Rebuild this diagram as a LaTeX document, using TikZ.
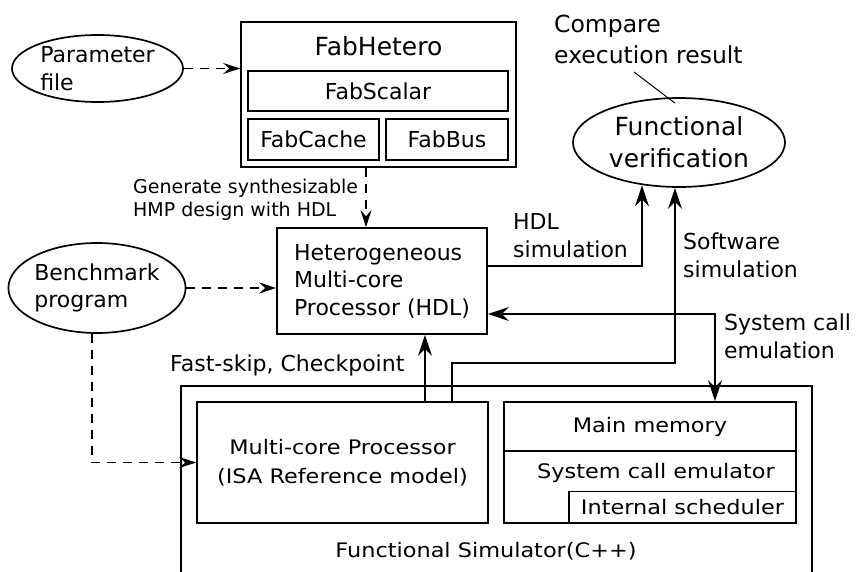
\documentclass[tikz,border=0pt]{standalone}
\usepackage{fontspec}
\setmainfont{DejaVu Sans}
\newfontfamily\wideff[FakeStretch=1.12]{DejaVu Sans}
\usetikzlibrary{arrows.meta,shapes.geometric,calc}
\newcommand\lblf{\fontsize{22}{27.5}\selectfont}
\newcommand\ttlf{\fontsize{25}{32}\selectfont}
\newcommand\smlf{\fontsize{19}{23}\selectfont}
\newcommand\cmpf{\fontsize{23.5}{31}\selectfont}
\newcommand\widef{\wideff\fontsize{20}{29}\selectfont}
\begin{document}
\begin{tikzpicture}[x=1pt,y=-1pt,
  box/.style={draw,line width=1.7pt,inner sep=0pt},
  oval/.style={draw,ellipse,line width=1.7pt,inner sep=0pt},
  solidc/.style={line width=1.5pt,-{Stealth[length=21pt,width=14pt,inset=7pt]}},
  bothc/.style={line width=1.5pt,{Stealth[length=21pt,width=14pt,inset=7pt]}-{Stealth[length=21pt,width=14pt,inset=7pt]}},
  dashc/.style={line width=1.3pt,dash pattern=on 9pt off 7pt,-{Stealth[length=17pt,width=11pt,inset=6pt]}},
  thinc/.style={line width=1pt}
]
\useasboundingbox (0,0) rectangle (857,571);

% top left
\node[oval, minimum width=171, minimum height=67, align=left, font=\lblf] (param) at (97.5,68.5) {Parameter\\file};
\node[box, minimum width=275, minimum height=145] (fab) at (378.5,94.5) {};
\node[font=\ttlf, anchor=base] (fabt) at (378.5,55) {FabHetero};
\node[box, minimum width=260, minimum height=40, font=\lblf] (scalar) at (378,91) {FabScalar};
\node[box, minimum width=131, minimum height=41, font=\lblf] (cache) at (313.5,139.5) {FabCache};
\node[box, minimum width=122, minimum height=41, font=\lblf] (bus) at (447,139.5) {FabBus};

% middle
\node[box, minimum width=210, minimum height=106, align=left, font=\lblf] (hmp) at (382,281) {Heterogeneous\\Multi-core\\Processor (HDL)};
\node[oval, minimum width=166, minimum height=90, align=left, font=\lblf] (bench) at (97,288) {Benchmark\\program};
\node[oval, minimum width=212, minimum height=89, align=center, font=\ttlf] (fv) at (679,142.5) {Functional\\verification};

% bottom
\node[box, minimum width=631, minimum height=220] (fs) at (496.5,496) {};
\node[font=\widef, anchor=base] (fst) at (486,557) {Functional Simulator(C++)};
\node[box, minimum width=291, minimum height=121, align=center, font=\widef] (mcp) at (342.5,462.5) {Multi-core Processor\\(ISA Reference model)};
\node[box, minimum width=292, minimum height=121] (rb) at (650,462.5) {};
\node[box, minimum width=292, minimum height=49, font=\widef] (mm) at (650,426.5) {Main memory};
\node[font=\widef, anchor=base] (sce) at (656,478) {System call emulator};
\node[box, minimum width=227, minimum height=31.5, font=\widef] (isch) at (682.5,507.25) {Internal scheduler};

% labels (base anchor = baseline of last line)
\node[font=\smlf, align=left, anchor=base west, inner sep=0pt] (gen) at (133,216) {Generate synthesizable\\HMP design with HDL};
\node[font=\lblf, align=left, anchor=base west, inner sep=0pt] (hdll) at (513,257) {HDL\\simulation};
\node[font=\lblf, align=left, anchor=base west, inner sep=0pt] (swl) at (683,277) {Software\\simulation};
\node[font=\lblf, align=left, anchor=base west, inner sep=0pt] (scl) at (724,358) {System call\\emulation};
\node[font=\lblf, anchor=base west, inner sep=0pt] (fsk) at (170,371) {Fast-skip, Checkpoint};
\node[font=\cmpf, align=left, anchor=base west, inner sep=0pt] (cmp) at (554,63) {Compare\\execution result};

% connectors
\coordinate (xg) at (366,0);
\coordinate (xb) at (92,0);
\coordinate (xf) at (425,0);
\coordinate (sw) at (452,363);
\coordinate (sw2) at (675,363);
\coordinate (hd) at (642,266);
\coordinate (sc) at (715,314);
\coordinate (cl) at (634,72);

\draw[dashc] (param.east) -- (param.east -| fab.west);
\draw[dashc] (fab.south -| xg) -- (hmp.north -| xg);
\draw[dashc] (bench.east) -- (bench.east -| hmp.west);
\draw[dashc] (bench.south -| xb) |- (mcp.west);
\draw[solidc] (mcp.north -| xf) -- (hmp.south -| xf);
\draw[solidc] (mcp.north -| sw) -- (sw) -- (sw2) -- (fv.south -| sw2);
\draw[solidc, shorten >=-2.5pt] (hmp.east |- hd) -- (hd) -- (fv.south -| hd);
\draw[bothc] (hmp.east |- sc) -- (sc) -- (rb.north -| sc);
\draw[thinc] (cl) -- ([shift={(-4,6)}]fv.north);
\end{tikzpicture}
\end{document}
